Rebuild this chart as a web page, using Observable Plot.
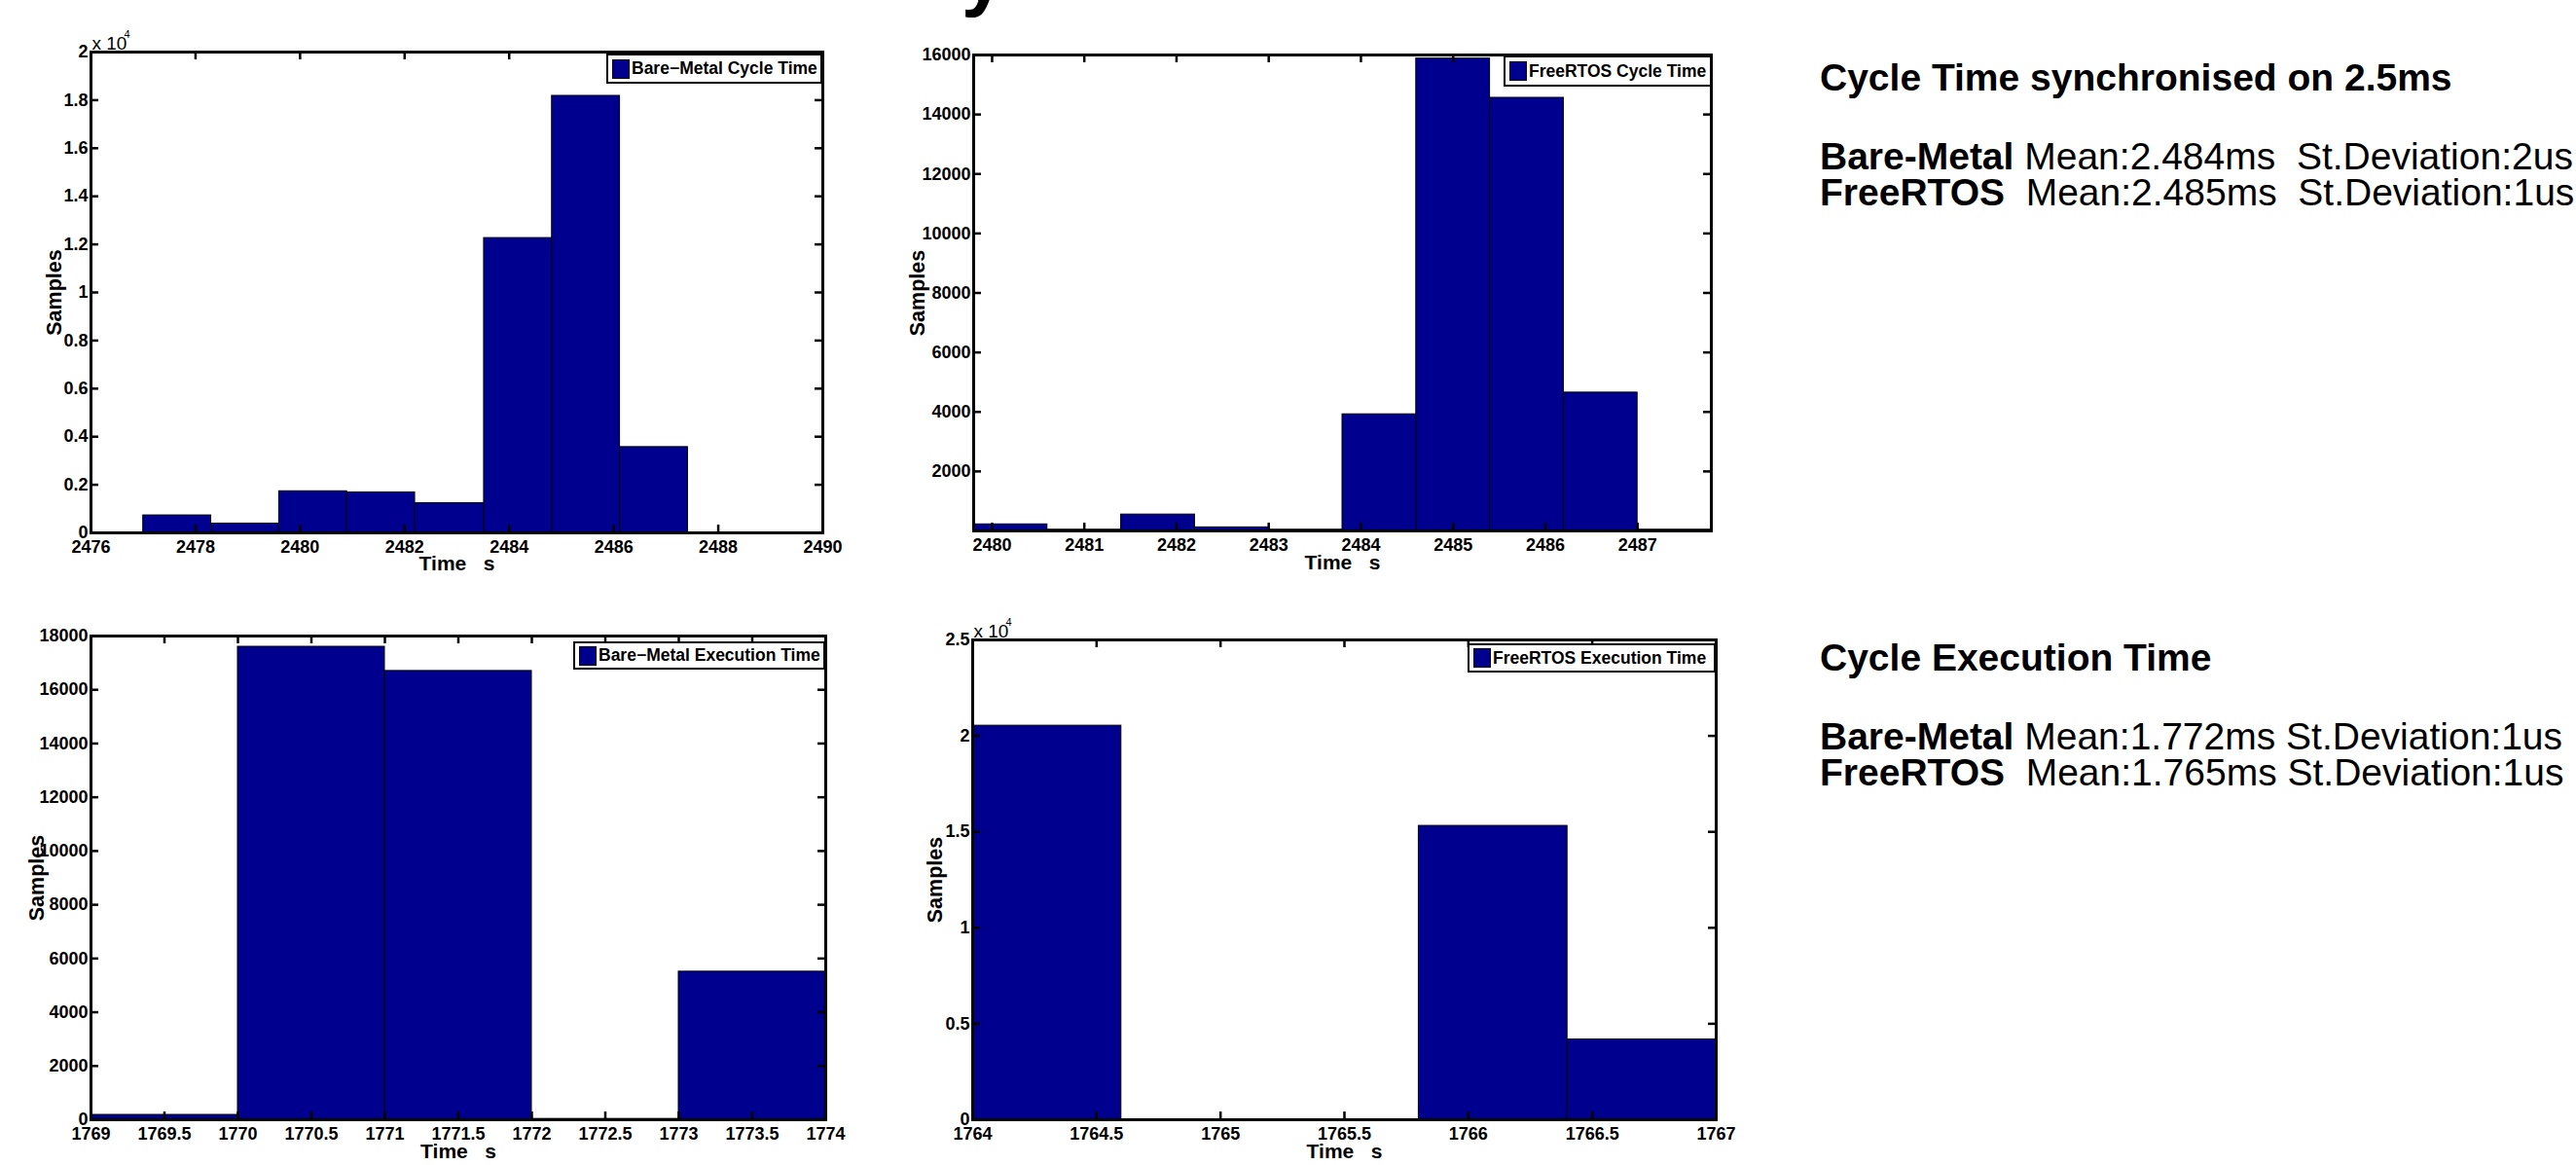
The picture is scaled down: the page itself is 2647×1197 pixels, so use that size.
<!DOCTYPE html>
<html><head><meta charset="utf-8">
<script src="https://cdn.jsdelivr.net/npm/d3@7"></script>
<script src="https://cdn.jsdelivr.net/npm/@observablehq/plot@0.6"></script>
<style>
html,body{margin:0;padding:0;background:#fff;}
#fig{position:relative;width:2647px;height:1197px;overflow:hidden;background:#fff;}
.panel{position:absolute;}
.legend{position:absolute;border:2.5px solid #000;background:#fff;display:flex;align-items:center;font:bold 17.5px "Liberation Sans",Arial,sans-serif;white-space:nowrap;overflow:hidden;box-sizing:border-box;color:#000;}
.legend .sw{width:18px;height:20px;background:#00008f;border:1px solid #000;margin:0 2px 0 4px;flex:none;box-sizing:border-box;}
.txt{position:absolute;left:1870px;font-family:"Liberation Sans",Arial,sans-serif;font-size:39px;line-height:39px;white-space:pre;color:#000;}
.txt.h{font-weight:bold;}
.txt.rows{line-height:37.5px;}
.cut{position:absolute;left:988px;top:-66px;font:bold 80px/80px "Liberation Sans",Arial,sans-serif;color:#000;white-space:pre;}
</style>
</head><body>
<div id="fig"></div>
<script>
// ---------- data ----------
const bmCycleEdges  = [2477.0, 2478.3, 2479.6, 2480.9, 2482.2, 2483.52, 2484.82, 2486.12, 2487.42, 2488.72, 2490.0];
const bmCycleCounts = [726, 386, 1730, 1683, 1236, 12263, 18178, 3568, 0, 0];
const bmCycleXTicks = [2476, 2478, 2480, 2482, 2484, 2486, 2488, 2490];
const bmCycleYTicks = [0, 2000, 4000, 6000, 8000, 10000, 12000, 14000, 16000, 18000, 20000];

const rtCycleEdges  = [2479.8, 2480.6, 2481.4, 2482.2, 2483.0, 2483.8, 2484.6, 2485.4, 2486.2, 2487.0, 2487.8];
const rtCycleCounts = [220, 40, 550, 120, 40, 3920, 15880, 14560, 4650, 40];
const rtCycleXTicks = [2480, 2481, 2482, 2483, 2484, 2485, 2486, 2487];
const rtCycleYTicks = [2000, 4000, 6000, 8000, 10000, 12000, 14000, 16000];

const bmExecEdges  = [1769, 1770, 1771, 1772, 1773, 1774];
const bmExecCounts = [180, 17600, 16700, 30, 5510];
const bmExecXTicks = [1769, 1769.5, 1770, 1770.5, 1771, 1771.5, 1772, 1772.5, 1773, 1773.5, 1774];
const bmExecYTicks = [0, 2000, 4000, 6000, 8000, 10000, 12000, 14000, 16000, 18000];

const rtExecEdges  = [1764, 1764.6, 1765.2, 1765.8, 1766.4, 1767];
const rtExecCounts = [20530, 0, 0, 15310, 4180];
const rtExecXTicks = [1764, 1764.5, 1765, 1765.5, 1766, 1766.5, 1767];
const rtExecYTicks = [0, 5000, 10000, 15000, 20000, 25000];

const legendNames = ["Bare\u2212Metal Cycle Time", "FreeRTOS Cycle Time", "Bare\u2212Metal Execution Time", "FreeRTOS Execution Time"];
const headings = ["Cycle Time synchronised on 2.5ms", "Cycle Execution Time"];
const statsRows = [
  [["Bare-Metal", " Mean:2.484ms  St.Deviation:2us"], ["FreeRTOS", "  Mean:2.485ms  St.Deviation:1us"]],
  [["Bare-Metal", " Mean:1.772ms St.Deviation:1us"], ["FreeRTOS", "  Mean:1.765ms St.Deviation:1us"]]
];
const cutTitleFragment = "y"; // only the descender of the figure's (cropped) title shows at the top edge

// ---------- drawing ----------
const BAR = "#00008f";
const NARROW = '"Liberation Sans Narrow","Arial Narrow","Liberation Sans",Arial,sans-serif';
const WIDE = '"Liberation Sans",Arial,sans-serif';
const fig = document.getElementById("fig");
const fmtE4 = d => String(+(d / 1e4).toFixed(2));
const fmtPlain = d => String(d);

function panel(o) {
  const bins = o.counts.map((c, i) => ({x1: o.edges[i], x2: o.edges[i + 1], n: c}));
  const innerW = o.w - o.ml - o.mr, innerH = o.h - o.mt - o.mb, T = 8;
  const tk = {stroke: "#000", strokeWidth: 2.5};
  const marks = [
    Plot.rectY(bins, {x1: "x1", x2: "x2", y1: 0, y2: "n", fill: BAR, stroke: "#000", strokeWidth: 1, clip: true}),
    Plot.tickX(o.xTicks, {x: d => d, insetTop: innerH - T, ...tk}),
    Plot.tickX(o.xTicks, {x: d => d, insetBottom: innerH - T, ...tk}),
    Plot.tickY(o.yTicks, {y: d => d, insetRight: innerW - T, ...tk}),
    Plot.tickY(o.yTicks, {y: d => d, insetLeft: innerW - T, ...tk}),
    Plot.axisX({ticks: o.xTicks, tickSize: 0, tickPadding: 8, tickFormat: o.xFmt || fmtPlain, label: null}),
    Plot.axisY({ticks: o.yTicks, tickSize: 0, tickPadding: 3, tickFormat: o.yFmt || fmtPlain, label: null}),
    Plot.frame({stroke: "#000", strokeWidth: 3}),
    Plot.text(["Samples"], {text: d => d, frameAnchor: "left", textAnchor: "middle", rotate: -90, dx: o.sdx, fontFamily: WIDE, fontWeight: "bold", fontSize: 21.5, lineAnchor: "middle"}),
    Plot.text(["Time   s"], {text: d => d, frameAnchor: "bottom", textAnchor: "middle", dy: o.tdy, fontFamily: NARROW, fontWeight: "bold", fontSize: 21, lineAnchor: "middle"})
  ];
  if (o.exp) {
    marks.push(Plot.text(["x 10"], {text: d => d, frameAnchor: "top-left", textAnchor: "start", lineAnchor: "bottom", dx: 1, dy: -3, fontFamily: NARROW, fontWeight: "normal", fontSize: 19}));
    marks.push(Plot.text(["4"], {text: d => d, frameAnchor: "top-left", textAnchor: "start", lineAnchor: "bottom", dx: 34, dy: -15, fontFamily: NARROW, fontWeight: "normal", fontSize: 11}));
  }
  const chart = Plot.plot({
    width: o.w, height: o.h,
    marginLeft: o.ml, marginRight: o.mr, marginTop: o.mt, marginBottom: o.mb,
    x: {domain: o.xDomain, label: null},
    y: {domain: o.yDomain, label: null},
    style: {fontFamily: NARROW, fontSize: "18px", fontWeight: "bold", color: "#000", background: "transparent", overflow: "visible"},
    marks
  });
  chart.classList.add("panel");
  chart.style.left = o.left + "px";
  chart.style.top = o.top + "px";
  fig.appendChild(chart);

  const lg = document.createElement("div");
  lg.className = "legend";
  Object.assign(lg.style, {left: o.lg[0] + "px", top: o.lg[1] + "px", width: o.lg[2] + "px", height: o.lg[3] + "px"});
  const sw = document.createElement("span"); sw.className = "sw";
  const tx = document.createElement("span"); tx.textContent = o.name;
  lg.appendChild(sw); lg.appendChild(tx);
  fig.appendChild(lg);
}

panel({edges: bmCycleEdges, counts: bmCycleCounts, xTicks: bmCycleXTicks, yTicks: bmCycleYTicks,
  xDomain: [2476, 2490], yDomain: [0, 20000], yFmt: fmtE4, exp: true,
  left: 0, top: 0, w: 880, h: 600, ml: 93, mr: 35, mt: 53, mb: 53, sdx: -37, tdy: 32,
  name: legendNames[0], lg: [623, 55, 222, 31]});

panel({edges: rtCycleEdges, counts: rtCycleCounts, xTicks: rtCycleXTicks, yTicks: rtCycleYTicks,
  xDomain: [2479.8, 2487.8], yDomain: [0, 16000],
  left: 900, top: 0, w: 880, h: 600, ml: 100, mr: 22, mt: 56, mb: 55, sdx: -57, tdy: 33,
  name: legendNames[1], lg: [1545, 57, 214, 32]});

panel({edges: bmExecEdges, counts: bmExecCounts, xTicks: bmExecXTicks, yTicks: bmExecYTicks,
  xDomain: [1769, 1774], yDomain: [0, 18000],
  left: 0, top: 600, w: 880, h: 597, ml: 93, mr: 32, mt: 53, mb: 47, sdx: -55, tdy: 33,
  name: legendNames[2], lg: [589, 659, 259, 29]});

panel({edges: rtExecEdges, counts: rtExecCounts, xTicks: rtExecXTicks, yTicks: rtExecYTicks,
  xDomain: [1764, 1767], yDomain: [0, 25000], yFmt: fmtE4, exp: true,
  left: 900, top: 600, w: 880, h: 597, ml: 99, mr: 17, mt: 57, mb: 47, sdx: -38, tdy: 33,
  name: legendNames[3], lg: [1508, 661, 255, 30]});

// right-hand annotation text: heading + a two-line block of statistics
const headTops = [60, 656];
const rowTops = [141.7, 737.7];
headings.forEach((h, k) => {
  const d = document.createElement("div");
  d.className = "txt h"; d.style.top = headTops[k] + "px"; d.textContent = h;
  fig.appendChild(d);
  const e = document.createElement("div");
  e.className = "txt rows"; e.style.top = rowTops[k] + "px";
  statsRows[k].forEach((r, j) => {
    if (j > 0) e.appendChild(document.createElement("br"));
    const b = document.createElement("b"); b.textContent = r[0];
    e.appendChild(b); e.appendChild(document.createTextNode(r[1]));
  });
  fig.appendChild(e);
});

// cropped title fragment at the very top edge
const cut = document.createElement("div");
cut.className = "cut"; cut.textContent = cutTitleFragment;
fig.appendChild(cut);
</script>
</body></html>
